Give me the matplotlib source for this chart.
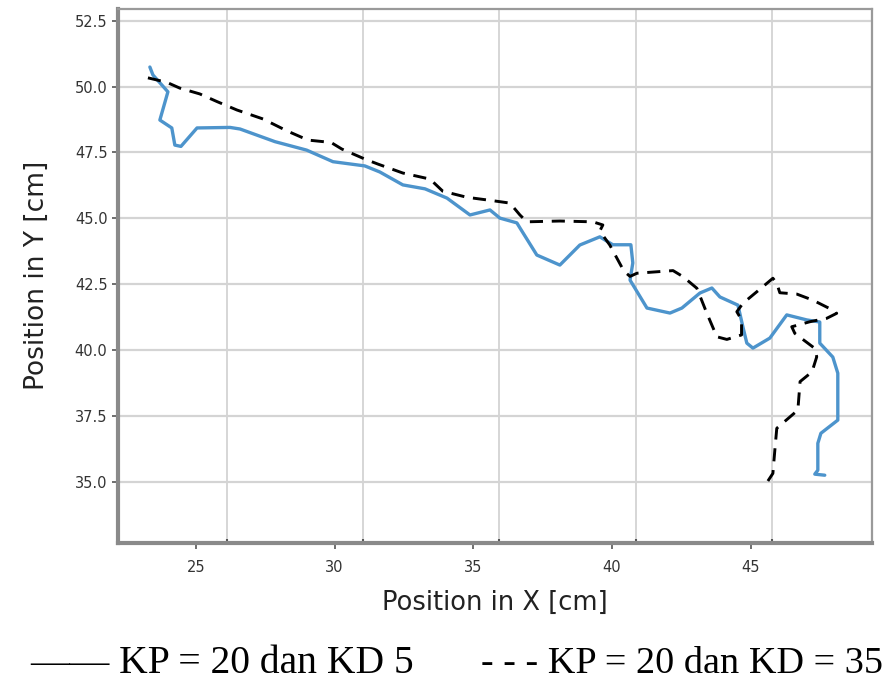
import numpy as np
import matplotlib
matplotlib.use("Agg")
import matplotlib.pyplot as plt
from matplotlib.ticker import FixedLocator

# KP = 20, KD = 5 (solid blue)
x_kd5 = [23.34, 23.45, 23.99, 23.70, 24.13, 24.24, 24.46, 25.04, 26.23, 26.59,
         27.85, 28.99, 29.94, 31.09, 31.63, 32.46, 33.26, 34.05, 34.88, 35.60,
         35.96, 36.57, 36.68, 37.29, 38.12, 38.84, 39.56, 40.03, 40.68, 40.75,
         40.65, 41.26, 42.09, 42.52, 43.17, 43.60, 43.89, 44.54, 44.72, 44.86,
         45.08, 45.69, 46.30, 47.02, 47.49, 47.49, 47.96, 48.14, 48.14, 47.53,
         47.42, 47.42, 47.31, 47.67]
y_kd5 = [50.74, 50.44, 49.80, 48.73, 48.43, 47.78, 47.73, 48.43, 48.45, 48.39,
         47.91, 47.59, 47.15, 46.99, 46.76, 46.27, 46.12, 45.77, 45.13, 45.32,
         45.01, 44.83, 44.64, 43.61, 43.23, 43.99, 44.30, 44.00, 44.00, 43.31,
         42.66, 41.60, 41.41, 41.60, 42.17, 42.36, 42.02, 41.71, 40.88, 40.27,
         40.08, 40.46, 41.34, 41.15, 41.07, 40.27, 39.74, 39.13, 37.35, 36.85,
         36.47, 35.45, 35.30, 35.26]

# KP = 20, KD = 35 (dashed black)
x_kd35 = [23.27, 23.95, 24.42, 25.14, 25.76, 26.48, 27.42, 28.28, 29.04, 29.87,
          30.26, 31.09, 31.56, 32.46, 33.44, 33.90, 34.77, 35.71, 36.32, 36.68,
          36.93, 38.12, 39.31, 39.67, 39.56, 39.92, 40.43, 40.65, 40.90, 42.20,
          42.56, 43.06, 43.42, 43.78, 44.14, 44.67, 44.67, 44.50, 44.72, 45.44,
          45.80, 45.94, 46.05, 46.66, 47.24, 47.96, 48.10, 47.74, 47.13, 46.48,
          46.59, 47.31, 47.38, 47.21, 46.78, 46.70, 45.94, 45.87, 45.80, 45.62]
y_kd35 = [50.33, 50.16, 49.94, 49.72, 49.43, 49.11, 48.77, 48.32, 47.97, 47.88,
          47.63, 47.25, 47.06, 46.72, 46.49, 46.03, 45.80, 45.67, 45.58, 45.13,
          44.87, 44.90, 44.87, 44.75, 44.52, 43.99, 43.00, 42.80, 42.92, 43.02,
          42.79, 42.35, 41.40, 40.51, 40.41, 40.58, 41.15, 41.46, 41.78, 42.41,
          42.73, 42.54, 42.18, 42.13, 41.90, 41.52, 41.40, 41.21, 41.08, 40.89,
          40.64, 40.07, 39.75, 39.18, 38.81, 37.73, 37.04, 36.21, 35.33, 35.04]

x_ticks = [25, 30, 35, 40, 45]
y_ticks = [35.0, 37.5, 40.0, 42.5, 45.0, 47.5, 50.0, 52.5]
# vertical grid of the screenshot does not sit on the x ticks
x_grid = [26.13, 31.03, 35.94, 40.88, 45.78]

fig = plt.figure(figsize=(8.87, 6.8), dpi=100)
ax = fig.add_axes([0.133, 0.2015, 0.850, 0.786])

ax.plot(x_kd5, y_kd5, color="#4d94cc", lw=2.4, solid_capstyle="round",
        solid_joinstyle="round", zorder=3)
ax.plot(x_kd35, y_kd35, color="black", lw=2.1, dashes=(4.5, 3.0), zorder=3)

ax.set_xlim(22.19, 49.37)
ax.set_ylim(32.69, 52.96)
ax.set_xticks(x_ticks)
ax.set_yticks(y_ticks)
ax.set_yticklabels([f"{v:.1f}" for v in y_ticks])
ax.xaxis.set_minor_locator(FixedLocator(x_grid))

ax.grid(False)
ax.grid(True, which="minor", axis="x", color="#cfcfcf", lw=1.2)
ax.grid(True, which="major", axis="y", color="#d4d4d4", lw=1.6)

ax.tick_params(axis="both", which="major", labelsize=10.5, labelcolor="#333333",
               color="#555555", length=4, width=1.2)
ax.tick_params(axis="x", which="minor", direction="in", length=3, width=1.5, color="#555555")
ax.tick_params(axis="x", which="major", pad=8)

for side in ["left", "bottom"]:
    ax.spines[side].set_color("#8a8a8a")
    ax.spines[side].set_linewidth(3)
for side in ["top", "right"]:
    ax.spines[side].set_color("#9a9a9a")
    ax.spines[side].set_linewidth(1.6)

ax.set_xlabel("Position in X [cm]", fontsize=18.5, color="#222222", labelpad=11)
ax.set_ylabel("Position in Y [cm]", fontsize=19, color="#222222", labelpad=18)

fig.text(0.034, 0.011, "\u2014\u2014 KP = 20 dan KD 5", family="Liberation Serif",
         fontsize=28.5, color="black", ha="left", va="baseline")
fig.text(0.996, 0.011, "- - - KP = 20 dan KD = 35", family="Liberation Serif",
         fontsize=27.5, color="black", ha="right", va="baseline")

fig.savefig("out.png", dpi=100)
